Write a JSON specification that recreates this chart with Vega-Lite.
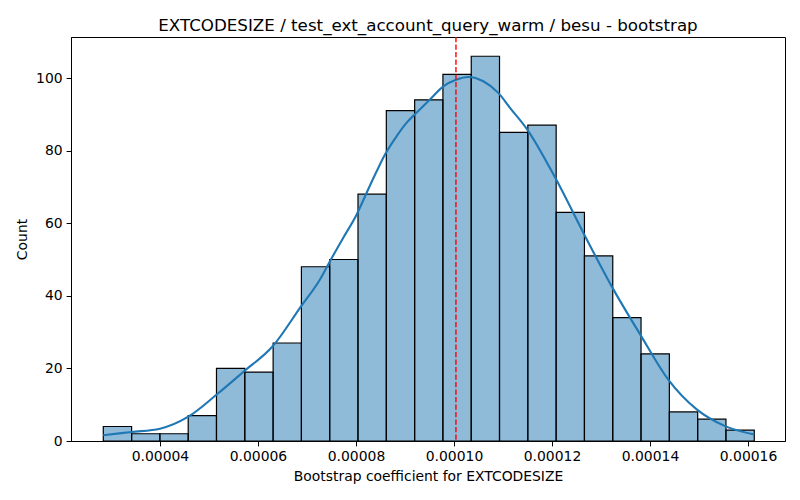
{
  "$schema": "https://vega.github.io/schema/vega-lite/v6.json",
  "autosize": {"type": "none"},
  "width": 714,
  "height": 404,
  "padding": {"left": 71, "top": 37, "right": 15, "bottom": 59},
  "background": "white",
  "title": {
    "text": "EXTCODESIZE / test_ext_account_query_warm / besu - bootstrap",
    "font": "DejaVu Sans",
    "fontSize": 16.7,
    "fontWeight": "normal",
    "color": "black",
    "anchor": "middle",
    "baseline": "bottom",
    "frame": "group",
    "offset": 5,
    "dy": 20
  },
  "datasets": {
    "bins": [
      {"bin_start": 0.00002843, "bin_end": 0.00003421, "count": 4},
      {"bin_start": 0.00003421, "bin_end": 0.00003998, "count": 2},
      {"bin_start": 0.00003998, "bin_end": 0.00004576, "count": 2},
      {"bin_start": 0.00004576, "bin_end": 0.00005153, "count": 7},
      {"bin_start": 0.00005153, "bin_end": 0.00005731, "count": 20},
      {"bin_start": 0.00005731, "bin_end": 0.00006309, "count": 19},
      {"bin_start": 0.00006309, "bin_end": 0.00006886, "count": 27},
      {"bin_start": 0.00006886, "bin_end": 0.00007464, "count": 48},
      {"bin_start": 0.00007464, "bin_end": 0.00008041, "count": 50},
      {"bin_start": 0.00008041, "bin_end": 0.00008619, "count": 68},
      {"bin_start": 0.00008619, "bin_end": 0.00009197, "count": 91},
      {"bin_start": 0.00009197, "bin_end": 0.00009774, "count": 94},
      {"bin_start": 0.00009774, "bin_end": 0.00010352, "count": 101},
      {"bin_start": 0.00010352, "bin_end": 0.00010929, "count": 106},
      {"bin_start": 0.00010929, "bin_end": 0.00011507, "count": 85},
      {"bin_start": 0.00011507, "bin_end": 0.00012085, "count": 87},
      {"bin_start": 0.00012085, "bin_end": 0.00012662, "count": 63},
      {"bin_start": 0.00012662, "bin_end": 0.0001324, "count": 51},
      {"bin_start": 0.0001324, "bin_end": 0.00013817, "count": 34},
      {"bin_start": 0.00013817, "bin_end": 0.00014395, "count": 24},
      {"bin_start": 0.00014395, "bin_end": 0.00014973, "count": 8},
      {"bin_start": 0.00014973, "bin_end": 0.0001555, "count": 6},
      {"bin_start": 0.0001555, "bin_end": 0.00016128, "count": 3}
    ],
    "kde": [
      {"x": 0.00002843, "density": 1.6},
      {"x": 0.00003422, "density": 2.5},
      {"x": 0.00004, "density": 3.4},
      {"x": 0.00004578, "density": 6.7},
      {"x": 0.00005157, "density": 12.8},
      {"x": 0.00005714, "density": 19.2},
      {"x": 0.000063, "density": 26.1},
      {"x": 0.00006878, "density": 37.1},
      {"x": 0.00007265, "density": 44.5},
      {"x": 0.00007455, "density": 49.2},
      {"x": 0.00007741, "density": 56},
      {"x": 0.00008014, "density": 62.4},
      {"x": 0.00008218, "density": 68.4},
      {"x": 0.00008422, "density": 74.3},
      {"x": 0.00008592, "density": 78.9},
      {"x": 0.00008831, "density": 84},
      {"x": 0.00009035, "density": 87.7},
      {"x": 0.00009271, "density": 90.9},
      {"x": 0.0000951, "density": 94.1},
      {"x": 0.00009782, "density": 97.7},
      {"x": 0.00010055, "density": 99.6},
      {"x": 0.00010292, "density": 100.3},
      {"x": 0.00010598, "density": 99.1},
      {"x": 0.00010904, "density": 95.9},
      {"x": 0.00011143, "density": 91.8},
      {"x": 0.00011496, "density": 85.8},
      {"x": 0.00012067, "density": 72.5},
      {"x": 0.00012639, "density": 57.4},
      {"x": 0.00013218, "density": 42.6},
      {"x": 0.00013802, "density": 29.3},
      {"x": 0.00014373, "density": 16.9},
      {"x": 0.00014953, "density": 8.7},
      {"x": 0.00015531, "density": 4.1},
      {"x": 0.00016128, "density": 1.8}
    ],
    "mean": [
      {"mean": 0.0001004}
    ]
  },
  "layer": [
    {
      "data": {"name": "bins"},
      "mark": {
        "type": "rect",
        "fill": "#1f77b4",
        "fillOpacity": 0.5,
        "stroke": "black",
        "strokeWidth": 1.2
      },
      "encoding": {
        "x": {
          "field": "bin_start",
          "type": "quantitative",
          "title": "Bootstrap coefficient for EXTCODESIZE",
          "scale": {"domain": [0.00002184, 0.00016755], "nice": false, "zero": false},
          "axis": {
            "values": [0.00004, 0.00006, 0.00008, 0.0001, 0.00012, 0.00014, 0.00016],
            "format": ".5f"
          }
        },
        "x2": {"field": "bin_end"},
        "y": {
          "field": "count",
          "type": "quantitative",
          "title": "Count",
          "scale": {"domain": [0, 111.3], "nice": false},
          "axis": {"values": [0, 20, 40, 60, 80, 100]}
        },
        "y2": {"datum": 0}
      }
    },
    {
      "data": {"name": "kde"},
      "mark": {"type": "line", "color": "#1f77b4", "strokeWidth": 2.1, "interpolate": "monotone"},
      "encoding": {
        "x": {"field": "x", "type": "quantitative", "title": "Bootstrap coefficient for EXTCODESIZE"},
        "y": {"field": "density", "type": "quantitative", "title": "Count"}
      }
    },
    {
      "data": {"name": "mean"},
      "mark": {"type": "rule", "color": "#ff0000", "strokeWidth": 1.4, "strokeDash": [5.2, 2.3]},
      "encoding": {
        "x": {"field": "mean", "type": "quantitative", "title": "Bootstrap coefficient for EXTCODESIZE"}
      }
    }
  ],
  "config": {
    "view": {"stroke": "black", "strokeWidth": 1},
    "axis": {
      "grid": false,
      "domain": true,
      "domainColor": "black",
      "domainWidth": 1,
      "tickColor": "black",
      "tickSize": 4.9,
      "tickWidth": 1,
      "labelPadding": 4,
      "labelFont": "DejaVu Sans",
      "labelFontSize": 13.9,
      "labelColor": "black",
      "labelFlush": false,
      "labelOverlap": false,
      "titleFont": "DejaVu Sans",
      "titleFontSize": 13.9,
      "titleFontWeight": "normal",
      "titleColor": "black",
      "titlePadding": 5.6
    }
  }
}
